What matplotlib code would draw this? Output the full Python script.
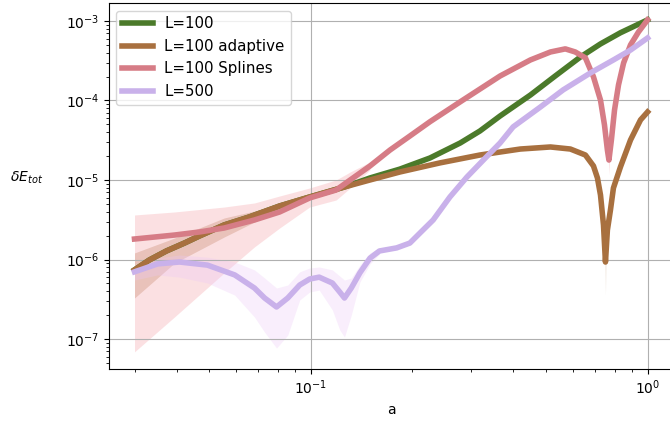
import matplotlib
matplotlib.use("Agg")
import matplotlib.pyplot as plt
import numpy as np

# L=100
a_l100 = [0.030, 0.0332, 0.0373, 0.0422, 0.0468, 0.0554, 0.0658, 0.0809, 0.0993, 0.126,
          0.150, 0.184, 0.226, 0.278, 0.318, 0.365, 0.449, 0.532, 0.632, 0.725, 0.831, 1.0]
e_l100 = [7.4e-7, 9.86e-7, 1.28e-6, 1.61e-6, 1.98e-6, 2.72e-6, 3.43e-6, 4.71e-6, 6.11e-6, 8.17e-6,
          1.06e-5, 1.37e-5, 1.89e-5, 2.92e-5, 4.13e-5, 6.38e-5, 1.17e-4, 2.03e-4, 3.52e-4, 5.14e-4, 7.1e-4, 1.03e-3]

# L=100 adaptive
a_adapt = [0.030, 0.0332, 0.0373, 0.0422, 0.0468, 0.0554, 0.0658, 0.0809, 0.0993, 0.126,
           0.150, 0.184, 0.242, 0.318, 0.419, 0.515, 0.590, 0.654, 0.691, 0.710, 0.725, 0.740,
           0.750, 0.760, 0.776, 0.792, 0.831, 0.890, 0.953, 1.0]
e_adapt = [7.4e-7, 9.86e-7, 1.28e-6, 1.61e-6, 1.98e-6, 2.72e-6, 3.43e-6, 4.71e-6, 6.11e-6, 8.17e-6,
           1.0e-5, 1.26e-5, 1.64e-5, 2.06e-5, 2.45e-5, 2.6e-5, 2.45e-5, 2.06e-5, 1.5e-5, 1.06e-5, 6.47e-6, 2.72e-6,
           9.3e-7, 2.35e-6, 4.19e-6, 7.93e-6, 1.46e-5, 3.18e-5, 5.69e-5, 7.16e-5]
a_adapt_band = [0.030, 0.0394, 0.0554, 0.0681, 0.0809, 0.0993]
lo_adapt = [3.28e-7, 9.0e-7, 1.92e-6, 2.96e-6, 4.19e-6, 5.94e-6]
hi_adapt = [1.21e-6, 1.86e-6, 3.33e-6, 4.07e-6, 4.99e-6, 6.29e-6]
a_adapt_dip = [0.746, 0.750, 0.754]
lo_adapt_dip = [1.6e-6, 3.57e-7, 1.6e-6]
hi_adapt_dip = [1.6e-6, 9.3e-7, 1.6e-6]

# L=100 Splines
a_spl = [0.030, 0.0394, 0.0468, 0.0554, 0.0681, 0.0809, 0.0993, 0.119, 0.131, 0.150,
         0.172, 0.197, 0.226, 0.283, 0.365, 0.449, 0.515, 0.570, 0.610, 0.654, 0.691, 0.725,
         0.745, 0.760, 0.768, 0.781, 0.798, 0.820, 0.849, 0.890, 0.940, 1.0]
e_spl = [1.81e-6, 2.03e-6, 2.22e-6, 2.49e-6, 3.14e-6, 3.96e-6, 5.94e-6, 7.48e-6, 1.0e-5, 1.5e-5,
         2.38e-5, 3.57e-5, 5.4e-5, 1.01e-4, 2.03e-4, 3.23e-4, 4.07e-4, 4.45e-4, 4.07e-4, 3.43e-4, 1.98e-4, 1.01e-4,
         4.92e-5, 2.38e-5, 1.78e-5, 3.18e-5, 7.6e-5, 1.57e-4, 2.96e-4, 4.99e-4, 7.27e-4, 1.03e-3]
a_spl_band = [0.030, 0.0394, 0.0554, 0.0681, 0.0809, 0.0993, 0.119, 0.131, 0.150]
lo_spl = [6.9e-8, 1.89e-7, 6.8e-7, 1.44e-6, 2.49e-6, 4.57e-6, 5.6e-6, 7.93e-6, 1.34e-5]
hi_spl = [3.63e-6, 3.96e-6, 4.57e-6, 5.14e-6, 6.29e-6, 7.93e-6, 1.0e-5, 1.26e-5, 1.68e-5]
a_spl_dip = [0.764, 0.768, 0.772]
lo_spl_dip = [2.0e-5, 1.16e-5, 2.0e-5]
hi_spl_dip = [2.0e-5, 1.78e-5, 2.0e-5]

# L=500
a_l500 = [0.030, 0.0351, 0.0408, 0.0494, 0.0595, 0.0681, 0.0730, 0.0792, 0.0855, 0.0928,
          0.0993, 0.106, 0.116, 0.122, 0.126, 0.132, 0.140, 0.150, 0.160, 0.180, 0.197, 0.211,
          0.231, 0.259, 0.291, 0.330, 0.365, 0.399, 0.481, 0.562, 0.677, 0.792, 0.890, 1.0]
e_l500 = [7.0e-7, 8.8e-7, 9.3e-7, 8.5e-7, 6.4e-7, 4.38e-7, 3.28e-7, 2.53e-7, 3.28e-7, 4.78e-7,
          5.68e-7, 6.0e-7, 5.06e-7, 3.9e-7, 3.28e-7, 4.38e-7, 6.8e-7, 1.04e-6, 1.28e-6, 1.4e-6, 1.61e-6, 2.15e-6,
          3.14e-6, 6.11e-6, 1.09e-5, 1.89e-5, 2.92e-5, 4.65e-5, 8.28e-5, 1.36e-4, 2.22e-4, 3.23e-4, 4.3e-4, 6.1e-4]
a_l500_band = [0.030, 0.0351, 0.0408, 0.0494, 0.0595, 0.0681, 0.0730, 0.0792, 0.0855, 0.0928,
               0.0993, 0.106, 0.116, 0.122, 0.126, 0.132, 0.140, 0.150, 0.160]
lo_l500 = [5.52e-7, 6.4e-7, 6.0e-7, 5.06e-7, 3.57e-7, 1.89e-7, 1.22e-7, 7.7e-8, 1.12e-7, 3.1e-7,
           3.9e-7, 4.13e-7, 2.32e-7, 1.3e-7, 1.06e-7, 2.0e-7, 5.21e-7, 8.8e-7, 1.17e-6]
hi_l500 = [8.5e-7, 1.04e-6, 1.14e-6, 1.07e-6, 9.3e-7, 7.4e-7, 5.85e-7, 4.38e-7, 4.78e-7, 7.0e-7,
           7.82e-7, 8.05e-7, 7.4e-7, 6.19e-7, 5.52e-7, 5.85e-7, 8.5e-7, 1.21e-6, 1.4e-6]

c_l100 = '#4b7a2a'
c_adapt = '#a8703f'
c_spl = '#d67c86'
c_l500 = '#c9b1ea'
line_kw = dict(lw=4, solid_joinstyle='round')

fig = plt.figure(figsize=(6.7, 4.26), dpi=100)
ax = fig.add_axes([109 / 670, 57 / 426, 564 / 670, 366 / 426])

ax.plot(a_l100, e_l100, color=c_l100, label='L=100', **line_kw)

ax.plot(a_adapt, e_adapt, color=c_adapt, label='L=100 adaptive', **line_kw)
ax.fill_between(a_adapt_band, lo_adapt, hi_adapt, color=c_adapt, alpha=0.35, lw=0)
ax.fill_between(a_adapt_dip, lo_adapt_dip, hi_adapt_dip, color=c_adapt, alpha=0.2, lw=0)

ax.plot(a_spl, e_spl, color=c_spl, label='L=100 Splines', **line_kw)
ax.fill_between(a_spl_band, lo_spl, hi_spl, color='#f7b3b8', alpha=0.4, lw=0)
ax.fill_between(a_spl_dip, lo_spl_dip, hi_spl_dip, color='#f7b3b8', alpha=0.4, lw=0)

ax.plot(a_l500, e_l500, color=c_l500, label='L=500', **line_kw)
ax.fill_between(a_l500_band, lo_l500, hi_l500, color='#ecc8f7', alpha=0.3, lw=0)

ax.set_xscale('log')
ax.set_yscale('log')
ax.set_xlim(0.0252, 1.19)
ax.set_ylim(4.2e-8, 1.68e-3)
ax.grid(True)
ax.set_xlabel('a')
ax.set_ylabel(r'$\delta E_{tot}$', rotation=0, ha='right')
ax.yaxis.set_label_coords(-0.117, 0.5)
ax.legend(loc='upper left', fontsize=10.8)

fig.savefig('out.png', dpi=100)
